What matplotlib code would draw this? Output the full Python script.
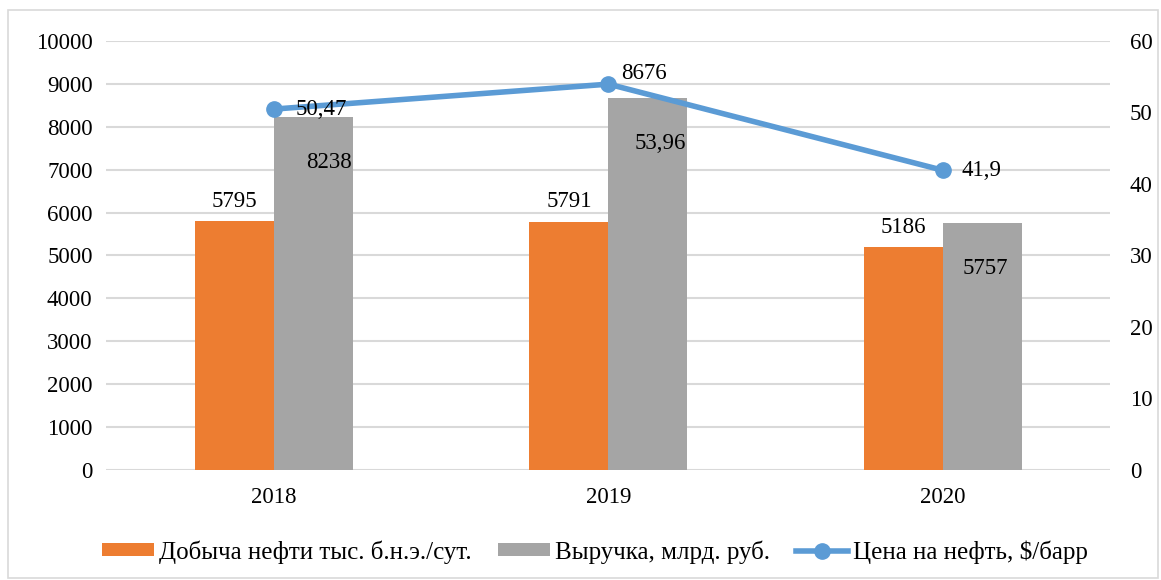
import matplotlib.pyplot as plt
from matplotlib.patches import Rectangle
import numpy as np

plt.rcParams["font.family"] = ["Liberation Serif", "DejaVu Serif"]

years = ["2018", "2019", "2020"]
production = [5795, 5791, 5186]
revenue = [8238, 8676, 5757]
oil_price = [50.47, 53.96, 41.9]

# labels as they appear in the source (2019 line/bar labels are swapped there)
revenue_labels = ["8238", "53,96", "5757"]
price_labels = ["50,47", "8676", "41,9"]

ORANGE = "#ed7d31"
GRAY = "#a5a5a5"
BLUE = "#5b9bd5"
GRID = "#d9d9d9"
FS = 16.5

fig = plt.figure(figsize=(11.61, 5.80), dpi=100)
fig.patches.append(Rectangle((8 / 1161, 2 / 580), 1150 / 1161, 568 / 580,
                             transform=fig.transFigure, fill=False,
                             edgecolor=GRID, linewidth=1.2))

ax = fig.add_axes([0.0917, 0.1897, 0.8648, 0.7397])
ax2 = ax.twinx()

x = np.arange(len(years))
w = 0.236
ax.bar(x - w / 2, production, w, color=ORANGE, label="Добыча нефти тыс. б.н.э./сут.", zorder=2)
ax.bar(x + w / 2, revenue, w, color=GRAY, label="Выручка, млрд. руб.", zorder=2)

ax.set_xlim(-0.5, 2.5)
ax.set_ylim(0, 10000)
ax.set_yticks(range(0, 10001, 1000))
ax.set_xticks(x)
ax.set_xticklabels(years)
ax.grid(axis="y", color=GRID, linewidth=1.5, zorder=0)
ax.set_axisbelow(True)
for s in ax.spines.values():
    s.set_visible(False)
ax.tick_params(length=0, labelsize=FS, pad=10)
ax.tick_params(axis="x", pad=12)

ax2.plot(x, oil_price, color=BLUE, linewidth=4, marker="o", markersize=11,
         label="Цена на нефть, $/барр", zorder=3)
ax2.set_ylim(0, 60)
ax2.set_yticks(range(0, 61, 10))
for s in ax2.spines.values():
    s.set_visible(False)
ax2.tick_params(length=0, labelsize=FS, pad=14)

# data labels
for xi, v in zip(x, production):
    ax.annotate(str(v), (xi - w / 2, v), xytext=(0, 7), textcoords="offset points",
                ha="center", va="bottom", fontsize=FS)
gray_dx = [11, 9, 2]
for xi, v, t, dx in zip(x, revenue, revenue_labels, gray_dx):
    ax.annotate(t, (xi + w / 2, v), xytext=(dx, -33), textcoords="offset points",
                ha="center", va="center", fontsize=FS)
price_off = [(16, 0), (9, 8), (13, 0)]
for xi, v, t, (dx, dy) in zip(x, oil_price, price_labels, price_off):
    ax2.annotate(t, (xi, v), xytext=(dx, dy), textcoords="offset points",
                 ha="left", va="center", fontsize=FS, zorder=4)

h1, l1 = ax.get_legend_handles_labels()
h2, l2 = ax2.get_legend_handles_labels()
fig.legend(h1 + h2, l1 + l2, loc="center", bbox_to_anchor=(0.5125, 1 - 552 / 580),
           ncol=3, frameon=False, fontsize=18, handlelength=2.08,
           handletextpad=0.2, columnspacing=1.05, handleheight=0.44,
           borderpad=0.2, markerscale=1.0)

fig.savefig("out.png", dpi=100)
